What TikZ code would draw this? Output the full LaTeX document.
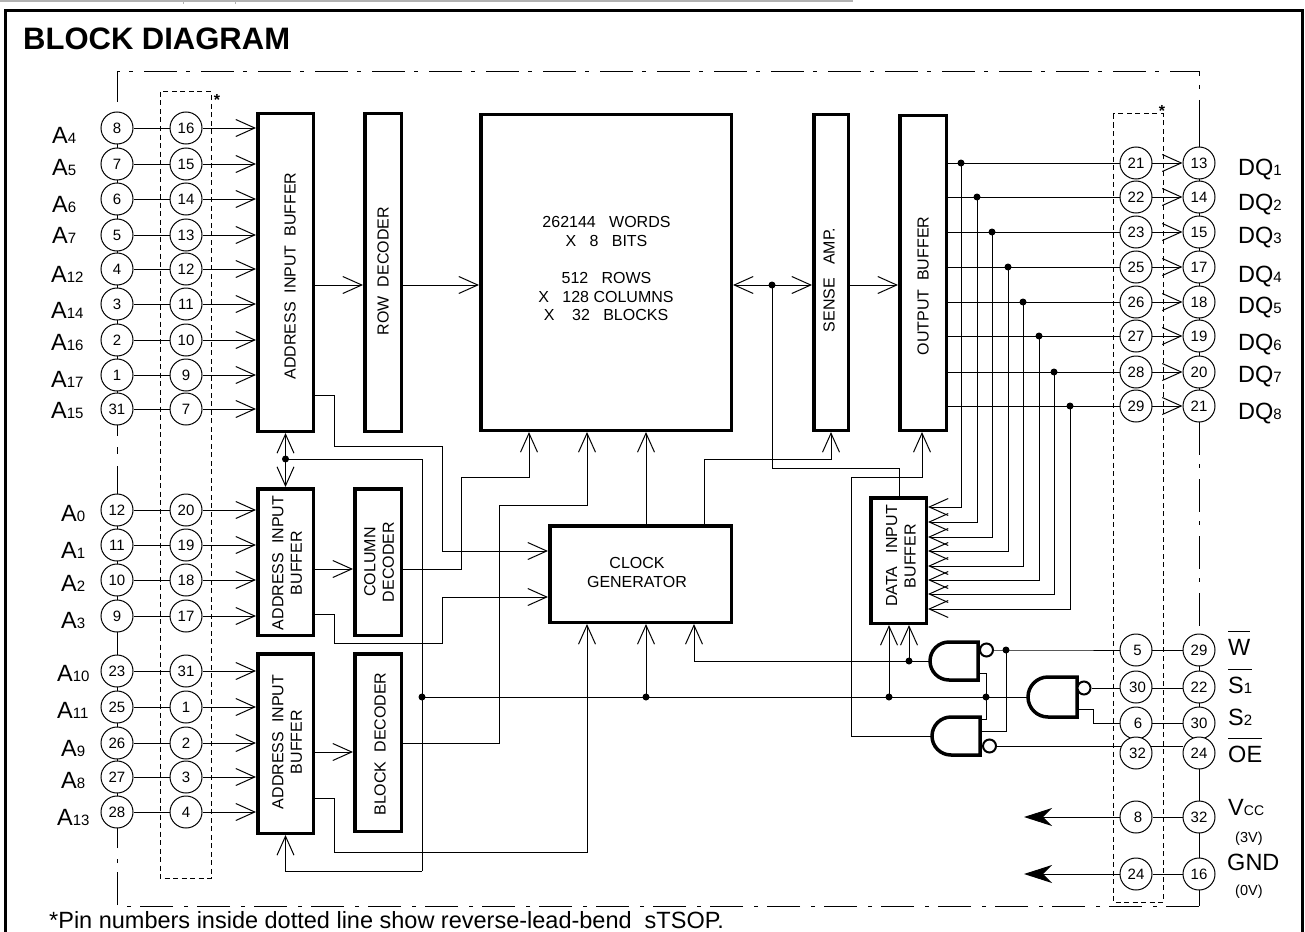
\documentclass[tikz,border=0pt]{standalone}
\usepackage{fontspec}
\setmainfont{Liberation Sans}
\usetikzlibrary{arrows.meta}
\pgfdeclarelayer{bg}
\pgfsetlayers{bg,main}
\newcommand{\fz}[1]{\fontsize{#1}{#1}\selectfont}
\newcommand{\ovl}[1]{\leavevmode\vbox{\hrule height 1pt\kern 6.5pt\hbox{#1}}}
\begin{document}
\begin{tikzpicture}[x=1pt,y=-1pt,
  wire/.style={line width=1pt},
  arr/.style={line width=1pt,-{Straight Barb[length=19pt,width=17pt,line width=1pt]}},
  pwr/.style={line width=1pt,-{Stealth[length=28pt,width=18pt,inset=9pt]}},
  pin/.style={circle,draw,fill=white,minimum size=32pt,inner sep=0pt,line width=1pt,font=\fz{15}},
  jdot/.style={circle,fill,inner sep=0pt,minimum size=7pt},
  blk/.style={draw,line width=3.5pt,inner sep=0pt,fill=white},
  btxt/.style={font=\fontsize{16}{18.5}\selectfont,align=center,inner sep=0pt},
  vtxt/.style={btxt,rotate=90},
  gate/.style={line width=3.5pt,line join=miter,fill=white},
  bub/.style={circle,draw,line width=2pt,fill=white,minimum size=13pt,inner sep=0pt},
  dd/.style={line width=1pt,dash pattern=on 33pt off 9pt on 4pt off 11pt},
  dbox/.style={line width=1pt,dash pattern=on 5pt off 3.5pt},
  lab/.style={font=\fz{23.5},anchor=base west,inner sep=0pt},
  sm/.style={font=\fz{14.5},anchor=base west,inner sep=0pt},
]
\useasboundingbox (0,0) rectangle (1305,931);
% ---------- frame ----------
\draw[gray!60,line width=1.5pt] (0,0.8) -- (853,0.8);
\draw[gray!60,line width=1pt] (183,0) -- (183,4) (235,0) -- (235,4);
\draw[line width=2.5pt] (5.5,940) -- (5.5,10.5) -- (1302.5,10.5) -- (1302.5,940);
\node[font=\bfseries\fz{31},anchor=base west,inner sep=0pt] (title) at (23,50) {BLOCK DIAGRAM};
\node[font=\fz{23.5},anchor=base west,inner sep=0pt] (note) at (49,928) {*Pin numbers inside dotted line show reverse-lead-bend\ \ sTSOP.};
\node[font=\bfseries\fz{16},anchor=base,inner sep=0pt] (astL) at (217,106) {*};
\node[font=\bfseries\fz{16},anchor=base,inner sep=0pt] (astR) at (1162,117) {*};

% ---------- blocks ----------
\node[blk,minimum width=55.5pt,minimum height=317.5pt] (abufA) at (285.5,272.5) {};
\node[blk,minimum width=36.5pt,minimum height=317.5pt] (rowdec) at (383,272.5) {};
\node[blk,minimum width=55.5pt,minimum height=146.5pt] (abufB) at (285.5,562) {};
\node[blk,minimum width=46.5pt,minimum height=146.5pt] (coldec) at (378,562) {};
\node[blk,minimum width=55.5pt,minimum height=179.5pt] (abufC) at (285.5,743.5) {};
\node[blk,minimum width=46.5pt,minimum height=177.5pt] (blkdec) at (378,742.5) {};
\node[blk,minimum width=250.5pt,minimum height=315.5pt] (mem) at (606,272.5) {};
\node[blk,minimum width=34.5pt,minimum height=315.5pt] (sense) at (831,272.5) {};
\node[blk,minimum width=46.5pt,minimum height=314.5pt] (obuf) at (923,273) {};
\node[blk,minimum width=55.5pt,minimum height=125.5pt] (dibuf) at (898.5,560.5) {};
\node[blk,minimum width=181.5pt,minimum height=96.5pt] (clk) at (640.5,574) {};

\node[vtxt] (tA) at (290,276) {ADDRESS\ \ INPUT\ \ BUFFER};
\node[vtxt] (tRow) at (383,271) {ROW\ \ DECODER};
\node[vtxt] (tB) at (287,563) {ADDRESS\ \ INPUT\\BUFFER};
\node[vtxt] (tCol) at (379,562) {COLUMN\\DECODER};
\node[vtxt] (tC) at (287,742) {ADDRESS\ \ INPUT\\BUFFER};
\node[vtxt] (tBlk) at (380,744) {BLOCK\ \ DECODER};
\node[vtxt] (tSense) at (829,280) {SENSE\ \ \ AMP.};
\node[vtxt] (tOut) at (923,286) {OUTPUT\ \ BUFFER};
\node[vtxt] (tDi) at (901,556) {DATA\ \ \ INPUT\\BUFFER};
\node[btxt] (tClk) at (637,572.5) {CLOCK\\GENERATOR};
\node[btxt] (m1) at (606.5,222) {262144\ \ \ WORDS};
\node[btxt] (m2) at (606.5,241) {X\ \ \ 8\ \ \ BITS};
\node[btxt] (m3) at (606.5,278) {512\ \ \ ROWS};
\node[btxt] (m4) at (606,297) {X\ \ \ 128 COLUMNS};
\node[btxt] (m5) at (606,315) {X\ \ \ \ 32\ \ \ BLOCKS};

% ---------- left pins ----------
\foreach \k/\y/\s/\o/\i/\lx/\ly in {
1/128/4/8/16/52/143, 2/164/5/7/15/52/175, 3/199/6/6/14/52/212,
4/235/7/5/13/52/243, 5/269/12/4/12/51/282, 6/304/14/3/11/51/318,
7/340/16/2/10/51/350, 8/375/17/1/9/51/387, 9/409/15/31/7/51/418,
10/510/0/12/20/61/521, 11/545/1/11/19/61/558, 12/580/2/10/18/61/591,
13/616/3/9/17/61/628, 14/671/10/23/31/57/681, 15/707/11/25/1/57/718,
16/743/9/26/2/61/756, 17/777/8/27/3/61/788, 18/812/13/28/4/57/825}{
  \node[pin] (po\k) at (117,\y) {\o};
  \node[pin] (pi\k) at (186,\y) {\i};
  \node[lab] (pl\k) at (\lx,\ly) {A{\fz{15}\s}};
}

% ---------- DQ pins ----------
\foreach \k/\y/\a/\b/\dx/\ly in {
1/163/21/13/961/175, 2/197/22/14/977/210, 3/232/23/15/992/243,
4/267/25/17/1008/282, 5/302/26/18/1023/313, 6/336/27/19/1039/350,
7/372/28/20/1054/382, 8/406/29/21/1070/419}{
  \node[pin] (qa\k) at (1136,\y) {\a};
  \node[pin] (qb\k) at (1199,\y) {\b};
  \node[jdot] (qd\k) at (\dx,\y) {};
  \node[lab] (ql\k) at (1238,\ly) {DQ{\fz{15}\k}};
}

% ---------- control / power pins ----------
\node[pin] (wa) at (1136,650) {\kern3pt 5};
\node[pin] (wb) at (1199,650) {29};
\node[pin] (s1a) at (1136,687) {\kern3pt 30};
\node[pin] (s1b) at (1199,687) {22};
\node[pin] (s2a) at (1136,723) {\kern4pt 6};
\node[pin] (s2b) at (1199,723) {30};
\node[pin] (oea) at (1136,753) {\kern3pt 32};
\node[pin] (oeb) at (1199,753) {24};
\node[pin] (va) at (1136,817) {\kern4pt 8};
\node[pin] (vb) at (1199,817) {32};
\node[pin] (ga) at (1136,874) {24};
\node[pin] (gb) at (1199,874) {16};
\node[lab] (lW) at (1228,655) {\ovl{W}};
\node[lab] (lS1) at (1228,693) {\ovl{S{\fz{15}1}}};
\node[lab] (lS2) at (1228,725) {S{\fz{15}2}};
\node[lab] (lOE) at (1228,762) {\ovl{OE}};
\node[lab] (lV) at (1228,815) {V{\fz{14}CC}};
\node[sm] (l3V) at (1235,842) {(3V)};
\node[lab] (lG) at (1227,870) {GND};
\node[sm] (l0V) at (1235,895) {(0V)};
\coordinate (vtip) at (1024,817);
\coordinate (gtip) at (1024,874);

% ---------- gates ----------
\draw[gate] (978,642) -- (949,642) arc[start angle=90,end angle=270,radius=19pt] -- (978,680) -- cycle;
\draw[gate] (1077,677) -- (1048,677) arc[start angle=90,end angle=270,radius=20pt] -- (1077,717) -- cycle;
\draw[gate] (980,717) -- (951,717) arc[start angle=90,end angle=270,radius=19pt] -- (980,755) -- cycle;
\coordinate (g1o) at (930,661);
\coordinate (g2o) at (1028,697);
\coordinate (g3o) at (932,736);
\node[bub] (bb1) at (986.5,650) {};
\node[bub] (bb2) at (1084,688) {};
\node[bub] (bb3) at (989.5,746) {};

% ---------- junction dots ----------
\node[jdot] (jW) at (1006,650) {};
\node[jdot] (jG1) at (909,661) {};
\node[jdot] (jC1) at (986,697) {};
\node[jdot] (jC2) at (889,697) {};
\node[jdot] (jC3) at (646,697) {};
\node[jdot] (jC4) at (422,697) {};
\node[jdot] (jBus) at (285.5,459) {};
\node[jdot] (jM) at (772,285) {};

% ---------- wiring (background) ----------
\begin{pgfonlayer}{bg}
% chip outline (dash-dot)
\draw[dd] (117,102) -- (117,72) -- (1199,72) -- (1199,131);
\draw[wire] (1199,131) -- (1199,422);
\draw[dd] (1199,422) -- (1199,634);
\draw[wire] (1199,634) -- (1199,906);
\draw[dd] (1199,906) -- (117,906) -- (117,846);
\draw[wire] (117,846) -- (117,494);
\draw[wire, dash pattern=on 11pt off 11pt on 7pt off 12pt on 40pt] (117,425) -- (117,494);
\draw[wire] (117,112) -- (117,425);
% dotted pin boxes
\draw[dbox] (160,92) rectangle (211,878);
\draw[dbox] (1113,114) rectangle (1163,902);
% address pins
\foreach \k/\b in {1/abufA,2/abufA,3/abufA,4/abufA,5/abufA,6/abufA,7/abufA,8/abufA,9/abufA,
  10/abufB,11/abufB,12/abufB,13/abufB,14/abufC,15/abufC,16/abufC,17/abufC,18/abufC}{
  \draw[wire] (po\k) -- (pi\k);
  \draw[arr] (pi\k) -- (\b.west |- pi\k);
}
% data pins
\foreach \k/\ay in {1/507,2/522,3/537,4/551,5/566,6/580,7/594,8/609}{
  \draw[arr] (obuf.east |- qa\k) -- (qb\k.west);
  \draw[arr] (qd\k.center) -- (qd\k.center |- 0,\ay) -- (dibuf.east |- 0,\ay);
}
% main data path
\draw[arr] (abufA.east |- 0,285) -- (rowdec.west |- 0,285);
\draw[arr] (rowdec.east |- 0,285) -- (mem.west |- 0,285);
\draw[arr] (jM.center) -- (mem.east |- jM);
\draw[arr] (jM.center) -- (sense.west |- jM);
\draw[arr] (sense.east |- 0,285) -- (obuf.west |- 0,285);
\draw[wire] (jM.center) -- (772,468) -- (899,468) -- (dibuf.north -| 899,0);
% decoders
\draw[arr] (abufB.east |- 0,569) -- (coldec.west |- 0,569);
\draw[arr] (abufC.east |- 0,752) -- (blkdec.west |- 0,752);
\draw[arr] (coldec.east |- 0,569) -- (461,569) -- (461,477) -- (529,477) -- (mem.south -| 529,0);
\draw[arr] (blkdec.east |- 0,743) -- (499,743) -- (499,505) -- (587,505) -- (mem.south -| 587,0);
% to clock generator
\draw[arr] (abufA.east |- 0,395) -- (334,395) -- (334,446) -- (442,446) -- (442,551) -- (clk.west |- 0,551);
\draw[arr] (abufB.east |- 0,614) -- (334,614) -- (334,643) -- (442,643) -- (442,597) -- (clk.west |- 0,597);
\draw[arr] (abufC.east |- 0,798) -- (334,798) -- (334,852) -- (587,852) -- (clk.south -| 587,0);
% clock generator outputs
\draw[arr] (clk.north -| 646,0) -- (mem.south -| 646,0);
\draw[arr] (clk.north -| 704,0) -- (704,459) -- (831,459) -- (sense.south);
% chip-enable bus
\draw[wire] (g2o) -- (jC4.center);
\draw[wire] (jBus.center) -- (422,459) -- (422,871);
\draw[arr] (jBus.center) -- (abufA.south);
\draw[arr] (jBus.center) -- (abufB.north);
\draw[arr] (422,871) -- (285.5,871) -- (abufC.south);
\draw[arr] (jC3.center) -- (clk.south -| jC3);
\draw[arr] (jC2.center) -- (dibuf.south -| jC2);
% W gate
\draw[arr] (g1o) -- (694,661) -- (clk.south -| 694,0);
\draw[arr] (jG1.center) -- (dibuf.south -| jG1);
\draw[wire] (bb1.east) -- (jW.center) -- (wb.west);
\draw[wire] (978,673) -- (986,673) -- (986,719) -- (980,719);
\draw[wire] (980,731) -- (1006,731) -- (jW.center);
% S gate
\draw[wire] (bb2.east) -- (s1b.west |- bb2.east);
\draw[wire] (1077,709) -- (1093,709) -- (1093,723) -- (s2b.west);
% OE gate
\draw[wire] (bb3.east) -- (oeb.west |- bb3.east);
\draw[arr] (g3o) -- (851,736) -- (851,477) -- (922,477) -- (obuf.south -| 922,0);
% power
\draw[wire] (vb) -- (va);
\draw[pwr] (va) -- (vtip);
\draw[wire] (gb) -- (ga);
\draw[pwr] (ga) -- (gtip);
\end{pgfonlayer}
\end{tikzpicture}
\end{document}
